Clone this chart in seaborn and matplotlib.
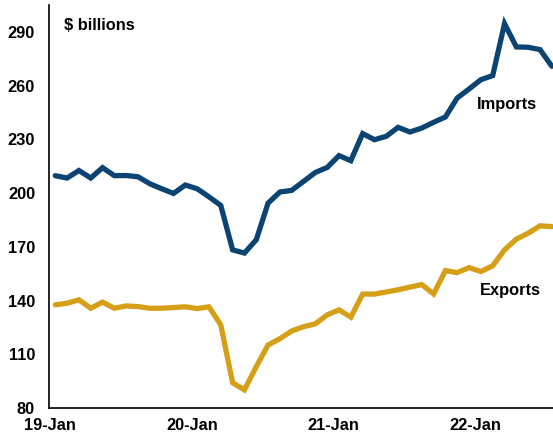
import matplotlib
matplotlib.use("Agg")
import matplotlib.pyplot as plt
import seaborn as sns
import pandas as pd
import numpy as np

imports = [209.7, 208.4, 212.6, 208.4, 214.2, 209.7, 209.8, 209.1, 205.2, 202.4,
           199.8, 204.5, 202.4, 197.9, 193.1, 168.3, 166.5, 173.9, 194.4, 200.6,
           201.5, 206.5, 211.5, 214.3, 220.9, 218.1, 233.2, 229.8, 231.7, 236.7,
           234.1, 236.3, 239.5, 242.5, 253.1, 258.1, 263.3, 265.6, 294.6, 281.6,
           281.4, 280.1, 270.8]
exports = [137.6, 138.5, 140.4, 135.7, 139.1, 135.7, 137.0, 136.6, 135.7, 135.7,
           136.1, 136.5, 135.5, 136.5, 126.4, 94.1, 90.1, 103.1, 115.2, 118.7,
           123.0, 125.4, 127.0, 132.0, 134.8, 130.7, 143.6, 143.6, 144.8, 146.0,
           147.5, 148.9, 143.7, 156.7, 155.6, 158.4, 156.2, 159.4, 168.3, 174.3,
           177.6, 181.7, 181.3]
tick_labels = ["19-Jan", "20-Jan", "21-Jan", "22-Jan"]
y_ticks = [80, 110, 140, 170, 200, 230, 260, 290]

n = len(imports)
month = np.arange(n) + 0.45
df = pd.DataFrame({"month": np.concatenate([month, month]),
                   "value": imports + exports,
                   "series": ["Imports"] * n + ["Exports"] * n})

sns.set_style("white")
plt.rcParams["font.family"] = ["Liberation Sans", "DejaVu Sans"]
plt.rcParams["text.color"] = "black"

fig = plt.figure(figsize=(5.53, 4.37), dpi=100)
ax = fig.add_axes([49 / 553, 1 - 408 / 437, (553 - 49) / 553, (408 - 5) / 437])

palette = {"Imports": "#0B4472", "Exports": "#D5A017"}
sns.lineplot(data=df, x="month", y="value", hue="series", palette=palette,
             linewidth=3.8, ax=ax, legend=False, solid_joinstyle="miter")

ax.set_xlim(-0.08, 42.55)
ax.set_ylim(80, 305)
ax.set_yticks(y_ticks)
ax.set_xticks([0, 12, 24, 36])
ax.set_xticklabels(tick_labels)
ax.set_xlabel("")
ax.set_ylabel("")
for lab in ax.get_xticklabels() + ax.get_yticklabels():
    lab.set_fontweight("bold")
    lab.set_fontsize(11.8)
    lab.set_color("black")
ax.tick_params(axis="both", direction="out", length=4, width=1, color="#888888",
               pad=3, labelcolor="black")
ax.tick_params(axis="y", pad=6)

for s in ["top", "right"]:
    ax.spines[s].set_visible(False)
for s in ["left", "bottom"]:
    ax.spines[s].set_color("black")
    ax.spines[s].set_linewidth(1.2)

ax.text(64 / 553, 1 - 25 / 437, "$ billions", transform=fig.transFigure,
        fontsize=11.8, fontweight="bold", va="center", ha="left", color="black")
ax.text(507 / 553, 1 - 104 / 437, "Imports", transform=fig.transFigure,
        fontsize=11.8, fontweight="bold", va="center", ha="center", color="black")
ax.text(510 / 553, 1 - 290 / 437, "Exports", transform=fig.transFigure,
        fontsize=11.8, fontweight="bold", va="center", ha="center", color="black")

fig.savefig("out.png", dpi=100)
